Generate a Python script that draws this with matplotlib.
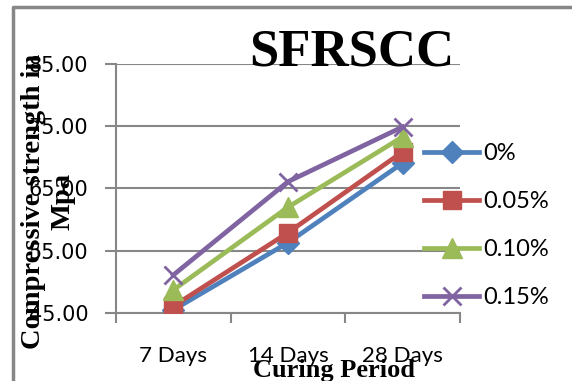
import matplotlib
matplotlib.use('Agg')
import matplotlib.pyplot as plt
from matplotlib.lines import Line2D

days = ['7 Days', '14 Days', '28 Days']
y_ticks = [45, 55, 65, 75, 85]

fiber_0 = [45.5, 56.3, 69.1]
fiber_005 = [46.1, 57.9, 70.9]
fiber_010 = [48.7, 62.0, 73.3]
fiber_015 = [51.1, 66.1, 74.9]

series = [
    ('0%', fiber_0, '#4F81BD', 'D', 11),
    ('0.05%', fiber_005, '#C0504D', 's', 13),
    ('0.10%', fiber_010, '#9BBB59', '^', 14),
    ('0.15%', fiber_015, '#8064A2', 'x', 13),
]

plt.rcParams['font.family'] = ['Lato', 'DejaVu Sans']
fig = plt.figure(figsize=(5.72, 3.81), dpi=100)
ax = fig.add_axes([116 / 572, 1 - 313 / 381, 344 / 572, 249 / 381])

x = [0.5, 1.5, 2.5]
for label, vals, color, marker, ms in series:
    ax.plot(x, vals, color=color, linewidth=3.4, marker=marker,
            markersize=ms, markeredgewidth=2 if marker == 'x' else 1,
            markeredgecolor=color, label=label, zorder=3)

ax.set_xlim(0, 3)
ax.set_ylim(45, 85)
ax.set_yticks(y_ticks)
ax.set_yticklabels(['%.2f' % v for v in y_ticks], fontsize=15,
                   family='DejaVu Sans')
ax.set_xticks([0, 1, 2, 3])
ax.set_xticklabels([])
ax.set_xticks(x, minor=True)
ax.set_xticklabels(days, minor=True, fontsize=16)
ax.tick_params(axis='x', which='minor', length=0, pad=24)
ax.tick_params(axis='x', which='major', length=7, color='#878787', width=1.5)
ax.tick_params(axis='y', length=8, color='#878787', width=1.5, pad=12)
ax.yaxis.grid(True, color='#878787', linewidth=1.5)
ax.set_axisbelow(True)
for side in ('top', 'right'):
    ax.spines[side].set_visible(False)
for side in ('left', 'bottom'):
    ax.spines[side].set_color('#878787')
    ax.spines[side].set_linewidth(1.5)

handles = [Line2D([], [], color=c, linewidth=3.4, marker=m, markersize=ms,
                  markeredgewidth=2 if m == 'x' else 1, markeredgecolor=c)
           for _, _, c, m, ms in series]
fig.legend(handles, [s[0] for s in series], loc='upper left',
           bbox_to_anchor=(415 / 572, 1 - 134 / 381), frameon=False,
           fontsize=17, handlelength=2.3, labelspacing=1.14,
           handletextpad=0.2, borderaxespad=0)

fig.text(352 / 572, 1 - 66 / 381, 'SFRSCC', family='Liberation Serif',
         fontweight='bold', fontsize=38, ha='center', va='baseline')
fig.text(48 / 572, 1 - 201 / 381, 'Compressive strength in\nMpa',
         family='Liberation Serif', fontweight='bold', fontsize=20.5,
         rotation=90, ha='center', va='center', linespacing=1.25)
fig.text(334 / 572, 1 - 377 / 381, 'Curing Period', family='Liberation Serif',
         fontweight='bold', fontsize=19, ha='center', va='baseline')

# outer chart frame (left and top edges visible)
fig.add_artist(Line2D([13 / 572, 13 / 572, 1], [0, 1 - 6.5 / 381, 1 - 6.5 / 381],
                      color='#878787', linewidth=2.5))

fig.savefig('out.png', dpi=100)
